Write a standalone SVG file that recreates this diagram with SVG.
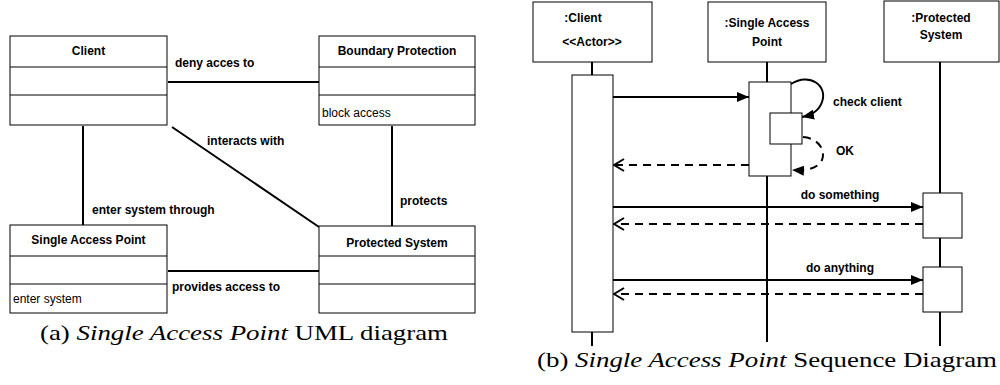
<svg xmlns="http://www.w3.org/2000/svg" width="1000" height="385" viewBox="0 0 1000 385">
<style>
.box{fill:#fff;stroke:#000;stroke-width:1}
.ln{stroke:#000;stroke-width:2;fill:none}
.dash{stroke:#000;stroke-width:2;fill:none;stroke-dasharray:8 6}
.t{font-family:"Liberation Sans",Arial,sans-serif;font-size:12px;font-weight:bold;fill:#000}
.tc{text-anchor:middle}
.n{font-family:"Liberation Sans",Arial,sans-serif;font-size:12px;fill:#000}
.cap{font-family:"Liberation Serif","Times New Roman",serif;font-size:22px;fill:#000}
</style>
<defs>
<marker id="fill" viewBox="0 0 12 10" refX="12" refY="5" markerWidth="12" markerHeight="10" markerUnits="userSpaceOnUse" orient="auto"><path d="M0,0 L12,5 L0,10 Z" fill="#000"/></marker>
<marker id="open" viewBox="0 0 12 14" refX="11" refY="7" markerWidth="12" markerHeight="14" markerUnits="userSpaceOnUse" orient="auto"><path d="M1,1 L11,7 L1,13" fill="none" stroke="#000" stroke-width="2"/></marker>
</defs>

<g id="connectors">
<line class="ln" x1="168" y1="82" x2="319" y2="82"/>
<line class="ln" x1="83" y1="126" x2="83" y2="225"/>
<line class="ln" x1="172" y1="127" x2="319" y2="227"/>
<line class="ln" x1="392" y1="126" x2="392" y2="226"/>
<line class="ln" x1="168" y1="271" x2="319" y2="271"/>
<line class="ln" x1="592" y1="62" x2="592" y2="346"/>
<line class="ln" x1="767" y1="62" x2="767" y2="342"/>
<line class="ln" x1="940" y1="62" x2="940" y2="346"/>
</g>

<g id="client">
<rect class="box" x="10" y="36" width="157" height="89"/>
<line class="box" x1="10" y1="67" x2="167" y2="67"/>
<line class="box" x1="10" y1="95" x2="167" y2="95"/>
<text class="t tc" x="88.5" y="55">Client</text>
</g>
<g id="boundary-protection">
<rect class="box" x="319" y="36" width="156" height="89"/>
<line class="box" x1="319" y1="67" x2="475" y2="67"/>
<line class="box" x1="319" y1="95" x2="475" y2="95"/>
<text class="t tc" x="397" y="55">Boundary Protection</text>
<text class="n" x="322" y="117">block access</text>
</g>
<g id="single-access-point">
<rect class="box" x="10" y="225" width="157" height="88"/>
<line class="box" x1="10" y1="256" x2="167" y2="256"/>
<line class="box" x1="10" y1="284" x2="167" y2="284"/>
<text class="t tc" x="88.5" y="244">Single Access Point</text>
<text class="n" x="13" y="303">enter system</text>
</g>
<g id="protected-system">
<rect class="box" x="319" y="226" width="156" height="87"/>
<line class="box" x1="319" y1="256" x2="475" y2="256"/>
<line class="box" x1="319" y1="284" x2="475" y2="284"/>
<text class="t tc" x="397" y="247">Protected System</text>
</g>
<g id="labels-a">
<text class="t" x="175" y="67">deny acces to</text>
<text class="t" x="207" y="145">interacts with</text>
<text class="t" x="92" y="214">enter system through</text>
<text class="t" x="400" y="205">protects</text>
<text class="t" x="172" y="291">provides access to</text>
</g>
<text class="cap" x="40" y="340" textLength="408" lengthAdjust="spacingAndGlyphs">(a) <tspan font-style="italic">Single Access Point</tspan> UML diagram</text>

<g id="client-lifeline">
<rect class="box" x="533" y="2" width="119" height="60"/>
<text class="t tc" x="583" y="22">:Client</text>
<text class="t tc" x="592" y="46" font-size="11">&lt;&lt;Actor&gt;&gt;</text>
<rect class="box" x="572" y="75" width="41" height="257"/>
</g>
<g id="sap-lifeline">
<rect class="box" x="708" y="2" width="118" height="60"/>
<text class="t tc" x="767" y="27">:Single Access</text>
<text class="t tc" x="767" y="46">Point</text>
<rect class="box" x="749" y="82" width="42" height="94"/>
<rect class="box" x="770" y="113" width="32" height="31"/>
</g>
<g id="ps-lifeline">
<rect class="box" x="884" y="1" width="115" height="61"/>
<text class="t tc" x="941" y="22">:Protected</text>
<text class="t tc" x="941" y="39">System</text>
<rect class="box" x="923" y="193" width="39" height="45"/>
<rect class="box" x="923" y="267" width="39" height="45"/>
</g>

<g id="messages">
<line class="ln" x1="613" y1="97" x2="749" y2="97" marker-end="url(#fill)"/>
<path class="ln" d="M791,84 C810,72 828,86 822,102 C819,111 812,115 802,117" marker-end="url(#fill)"/>
<path class="dash" d="M803,137 C818,138 826,150 822,160 C818,168 808,171 792,170" marker-end="url(#fill)"/>
<line class="dash" x1="749" y1="165" x2="614" y2="165" marker-end="url(#open)"/>
<line class="ln" x1="613" y1="207" x2="923" y2="207" marker-end="url(#fill)"/>
<line class="dash" x1="923" y1="224" x2="614" y2="224" marker-end="url(#open)"/>
<line class="ln" x1="613" y1="280" x2="923" y2="280" marker-end="url(#fill)"/>
<line class="dash" x1="923" y1="294" x2="614" y2="294" marker-end="url(#open)"/>
<text class="t" x="833" y="106">check client</text>
<text class="t" x="836" y="155">OK</text>
<text class="t tc" x="840" y="199">do something</text>
<text class="t tc" x="840" y="272">do anything</text>
</g>
<text class="cap" x="537" y="367" textLength="460" lengthAdjust="spacingAndGlyphs">(b) <tspan font-style="italic">Single Access Point</tspan> Sequence Diagram</text>
</svg>
